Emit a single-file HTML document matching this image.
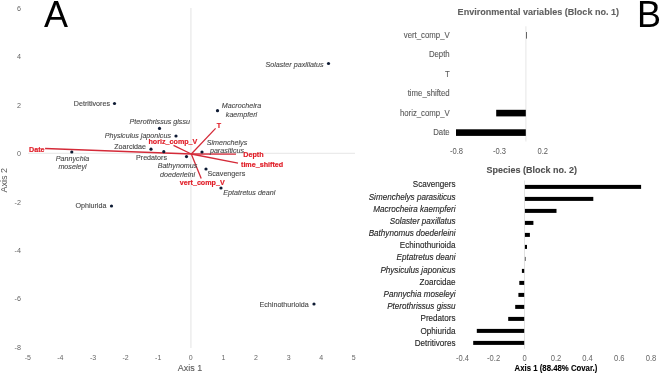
<!DOCTYPE html><html><head><meta charset="utf-8"><style>html,body{margin:0;padding:0;background:#fff;width:660px;height:374px;overflow:hidden}svg{display:block;font-family:"Liberation Sans",sans-serif;filter:blur(0.35px)}</style></head><body>
<svg width="660" height="374" viewBox="0 0 660 374">
<rect width="660" height="374" fill="#fff"/>
<text transform="translate(44.00,26.70) scale(1,1.03)" font-size="36" fill="#000" text-anchor="start">A</text>
<text transform="translate(637.00,26.70) scale(1,1.03)" font-size="36" fill="#000" text-anchor="start">B</text>
<line x1="190.9" y1="8" x2="190.9" y2="348" stroke="#ebebeb" stroke-width="1.4"/>
<line x1="28" y1="153.4" x2="355" y2="153.4" stroke="#ebebeb" stroke-width="1.4"/>
<text transform="translate(20.90,10.90) scale(1,1.05)" font-size="7.2" fill="#666666" text-anchor="end">6</text>
<text transform="translate(20.90,59.30) scale(1,1.05)" font-size="7.2" fill="#666666" text-anchor="end">4</text>
<text transform="translate(20.90,107.70) scale(1,1.05)" font-size="7.2" fill="#666666" text-anchor="end">2</text>
<text transform="translate(20.90,156.10) scale(1,1.05)" font-size="7.2" fill="#666666" text-anchor="end">0</text>
<text transform="translate(20.90,204.50) scale(1,1.05)" font-size="7.2" fill="#666666" text-anchor="end">-2</text>
<text transform="translate(20.90,252.90) scale(1,1.05)" font-size="7.2" fill="#666666" text-anchor="end">-4</text>
<text transform="translate(20.90,301.30) scale(1,1.05)" font-size="7.2" fill="#666666" text-anchor="end">-6</text>
<text transform="translate(20.90,349.70) scale(1,1.05)" font-size="7.2" fill="#666666" text-anchor="end">-8</text>
<text transform="translate(27.80,359.80) scale(1,1.0)" font-size="7" fill="#666666" text-anchor="middle">-5</text>
<text transform="translate(60.40,359.80) scale(1,1.0)" font-size="7" fill="#666666" text-anchor="middle">-4</text>
<text transform="translate(93.00,359.80) scale(1,1.0)" font-size="7" fill="#666666" text-anchor="middle">-3</text>
<text transform="translate(125.60,359.80) scale(1,1.0)" font-size="7" fill="#666666" text-anchor="middle">-2</text>
<text transform="translate(158.20,359.80) scale(1,1.0)" font-size="7" fill="#666666" text-anchor="middle">-1</text>
<text transform="translate(190.80,359.80) scale(1,1.0)" font-size="7" fill="#666666" text-anchor="middle">0</text>
<text transform="translate(223.40,359.80) scale(1,1.0)" font-size="7" fill="#666666" text-anchor="middle">1</text>
<text transform="translate(256.00,359.80) scale(1,1.0)" font-size="7" fill="#666666" text-anchor="middle">2</text>
<text transform="translate(288.60,359.80) scale(1,1.0)" font-size="7" fill="#666666" text-anchor="middle">3</text>
<text transform="translate(321.20,359.80) scale(1,1.0)" font-size="7" fill="#666666" text-anchor="middle">4</text>
<text transform="translate(353.80,359.80) scale(1,1.0)" font-size="7" fill="#666666" text-anchor="middle">5</text>
<text transform="translate(190.00,371.20) scale(1,1.1)" font-size="9" fill="#595959" text-anchor="middle" stroke="#595959" stroke-width="0.1">Axis 1</text>
<text transform="translate(7.0,180.3) rotate(-90) scale(1,1.1)" font-size="9" fill="#595959" text-anchor="middle">Axis 2</text>
<line x1="191.3" y1="154.0" x2="45.1" y2="148.5" stroke="#d42a38" stroke-width="1.3"/>
<line x1="191.3" y1="154.0" x2="173.5" y2="145.3" stroke="#d42a38" stroke-width="1.3"/>
<line x1="191.3" y1="154.0" x2="215.6" y2="128.4" stroke="#d42a38" stroke-width="1.3"/>
<line x1="191.3" y1="154.0" x2="236.0" y2="154.2" stroke="#d42a38" stroke-width="1.3"/>
<line x1="191.3" y1="154.0" x2="238.0" y2="163.2" stroke="#d42a38" stroke-width="1.3"/>
<line x1="191.3" y1="154.0" x2="201.2" y2="178.6" stroke="#d42a38" stroke-width="1.3"/>
<circle cx="114.5" cy="103.5" r="1.6" fill="#0d1a33"/>
<circle cx="159.5" cy="128.4" r="1.6" fill="#0d1a33"/>
<circle cx="176" cy="136" r="1.6" fill="#0d1a33"/>
<circle cx="151" cy="149.2" r="1.6" fill="#0d1a33"/>
<circle cx="163.8" cy="151.7" r="1.6" fill="#0d1a33"/>
<circle cx="186.5" cy="156.6" r="1.6" fill="#0d1a33"/>
<circle cx="71.8" cy="152" r="1.6" fill="#0d1a33"/>
<circle cx="111.5" cy="206" r="1.6" fill="#0d1a33"/>
<circle cx="217.5" cy="110.7" r="1.6" fill="#0d1a33"/>
<circle cx="202" cy="152" r="1.6" fill="#0d1a33"/>
<circle cx="206" cy="169" r="1.6" fill="#0d1a33"/>
<circle cx="221" cy="188" r="1.6" fill="#0d1a33"/>
<circle cx="328.5" cy="63.5" r="1.6" fill="#0d1a33"/>
<circle cx="314" cy="304" r="1.6" fill="#0d1a33"/>
<text transform="translate(110.00,105.80) scale(1,1.1)" font-size="7.17" fill="#474747" text-anchor="end" stroke="#474747" stroke-width="0.1">Detritivores</text>
<text transform="translate(190.00,123.80) scale(1,1.1)" font-size="7.17" fill="#474747" text-anchor="end" stroke="#474747" stroke-width="0.1" font-style="italic">Pterothrissus gissu</text>
<text transform="translate(171.00,137.60) scale(1,1.1)" font-size="7.17" fill="#474747" text-anchor="end" stroke="#474747" stroke-width="0.1" font-style="italic">Physiculus japonicus</text>
<text transform="translate(146.00,149.40) scale(1,1.1)" font-size="7.17" fill="#474747" text-anchor="end" stroke="#474747" stroke-width="0.1">Zoarcidae</text>
<text transform="translate(167.00,160.10) scale(1,1.1)" font-size="7.17" fill="#474747" text-anchor="end" stroke="#474747" stroke-width="0.1">Predators</text>
<text transform="translate(177.50,168.20) scale(1,1.1)" font-size="7.17" fill="#474747" text-anchor="middle" stroke="#474747" stroke-width="0.1" font-style="italic">Bathynomus</text>
<text transform="translate(177.50,176.80) scale(1,1.1)" font-size="7.17" fill="#474747" text-anchor="middle" stroke="#474747" stroke-width="0.1" font-style="italic">doederleini</text>
<text transform="translate(72.50,160.80) scale(1,1.1)" font-size="7.17" fill="#474747" text-anchor="middle" stroke="#474747" stroke-width="0.1" font-style="italic">Pannychia</text>
<text transform="translate(72.50,168.70) scale(1,1.1)" font-size="7.17" fill="#474747" text-anchor="middle" stroke="#474747" stroke-width="0.1" font-style="italic">moseleyi</text>
<text transform="translate(106.40,208.20) scale(1,1.1)" font-size="7.17" fill="#474747" text-anchor="end" stroke="#474747" stroke-width="0.1">Ophiurida</text>
<text transform="translate(241.50,108.10) scale(1,1.1)" font-size="7.17" fill="#474747" text-anchor="middle" stroke="#474747" stroke-width="0.1" font-style="italic">Macrocheira</text>
<text transform="translate(241.50,117.00) scale(1,1.1)" font-size="7.17" fill="#474747" text-anchor="middle" stroke="#474747" stroke-width="0.1" font-style="italic">kaempferi</text>
<text transform="translate(227.00,144.50) scale(1,1.1)" font-size="7.17" fill="#474747" text-anchor="middle" stroke="#474747" stroke-width="0.1" font-style="italic">Simenchelys</text>
<text transform="translate(227.00,152.50) scale(1,1.1)" font-size="7.17" fill="#474747" text-anchor="middle" stroke="#474747" stroke-width="0.1" font-style="italic">parasiticus</text>
<text transform="translate(207.50,176.40) scale(1,1.1)" font-size="7.17" fill="#474747" text-anchor="start" stroke="#474747" stroke-width="0.1">Scavengers</text>
<text transform="translate(223.30,195.10) scale(1,1.1)" font-size="7.17" fill="#474747" text-anchor="start" stroke="#474747" stroke-width="0.1" font-style="italic">Eptatretus deani</text>
<text transform="translate(323.50,66.50) scale(1,1.1)" font-size="7.17" fill="#474747" text-anchor="end" stroke="#474747" stroke-width="0.1" font-style="italic">Solaster paxillatus</text>
<text transform="translate(308.80,306.80) scale(1,1.1)" font-size="7.17" fill="#474747" text-anchor="end" stroke="#474747" stroke-width="0.1">Echinothurioida</text>
<text transform="translate(29.00,151.50) scale(1,1.1)" font-size="7.17" fill="#e01c26" text-anchor="start" stroke="#e01c26" stroke-width="0.18" font-weight="bold">Date</text>
<text transform="translate(148.50,144.10) scale(1,1.1)" font-size="7.17" fill="#e01c26" text-anchor="start" stroke="#e01c26" stroke-width="0.18" font-weight="bold">horiz_comp_V</text>
<text transform="translate(218.90,127.90) scale(1,1.1)" font-size="7.17" fill="#e01c26" text-anchor="middle" stroke="#e01c26" stroke-width="0.18" font-weight="bold">T</text>
<text transform="translate(243.30,157.00) scale(1,1.1)" font-size="7.17" fill="#e01c26" text-anchor="start" stroke="#e01c26" stroke-width="0.18" font-weight="bold">Depth</text>
<text transform="translate(241.00,167.20) scale(1,1.1)" font-size="7.17" fill="#e01c26" text-anchor="start" stroke="#e01c26" stroke-width="0.18" font-weight="bold">time_shifted</text>
<text transform="translate(179.80,185.00) scale(1,1.1)" font-size="7.17" fill="#e01c26" text-anchor="start" stroke="#e01c26" stroke-width="0.18" font-weight="bold">vert_comp_V</text>
<text transform="translate(457.60,15.10) scale(1,1.1)" font-size="9.07" fill="#606060" text-anchor="start" stroke="#606060" stroke-width="0.1" font-weight="bold">Environmental variables (Block no. 1)</text>
<line x1="525.9" y1="26.3" x2="525.9" y2="141.5" stroke="#e6e6e6" stroke-width="1"/>
<text transform="translate(449.70,37.80) scale(1,1.1)" font-size="7.8" fill="#595959" text-anchor="end" stroke="#595959" stroke-width="0.1">vert_comp_V</text>
<rect x="526.0" y="32.0" width="0.9" height="6.6" fill="#555"/>
<text transform="translate(449.70,57.26) scale(1,1.1)" font-size="7.8" fill="#595959" text-anchor="end" stroke="#595959" stroke-width="0.1">Depth</text>
<text transform="translate(449.70,76.72) scale(1,1.1)" font-size="7.8" fill="#595959" text-anchor="end" stroke="#595959" stroke-width="0.1">T</text>
<text transform="translate(449.70,96.18) scale(1,1.1)" font-size="7.8" fill="#595959" text-anchor="end" stroke="#595959" stroke-width="0.1">time_shifted</text>
<text transform="translate(449.70,115.64) scale(1,1.1)" font-size="7.8" fill="#595959" text-anchor="end" stroke="#595959" stroke-width="0.1">horiz_comp_V</text>
<rect x="496.2" y="109.8" width="29.6" height="6.6" fill="#000"/>
<text transform="translate(449.70,135.10) scale(1,1.1)" font-size="7.8" fill="#595959" text-anchor="end" stroke="#595959" stroke-width="0.1">Date</text>
<rect x="456" y="129.3" width="69.8" height="6.6" fill="#000"/>
<text transform="translate(456.50,153.50) scale(1,1.1)" font-size="7.6" fill="#595959" text-anchor="middle">-0.8</text>
<text transform="translate(499.50,153.50) scale(1,1.1)" font-size="7.6" fill="#595959" text-anchor="middle">-0.3</text>
<text transform="translate(542.80,153.50) scale(1,1.1)" font-size="7.6" fill="#595959" text-anchor="middle">0.2</text>
<text transform="translate(486.50,172.90) scale(1,1.1)" font-size="9" fill="#505050" text-anchor="start" stroke="#505050" stroke-width="0.1" font-weight="bold">Species (Block no. 2)</text>
<line x1="524.5" y1="180.5" x2="524.5" y2="348.8" stroke="#dedede" stroke-width="0.9"/>
<text transform="translate(455.60,187.40) scale(1,1.1)" font-size="8.12" fill="#262626" text-anchor="end" stroke="#262626" stroke-width="0.12">Scavengers</text>
<rect x="524.9" y="184.9" width="116.2" height="4.0" fill="#000"/>
<text transform="translate(455.60,199.58) scale(1,1.1)" font-size="8.12" fill="#262626" text-anchor="end" stroke="#262626" stroke-width="0.12" font-style="italic">Simenchelys parasiticus</text>
<rect x="524.9" y="196.9" width="68.4" height="4.0" fill="#000"/>
<text transform="translate(455.60,211.76) scale(1,1.1)" font-size="8.12" fill="#262626" text-anchor="end" stroke="#262626" stroke-width="0.12" font-style="italic">Macrocheira kaempferi</text>
<rect x="524.9" y="208.9" width="31.6" height="4.0" fill="#000"/>
<text transform="translate(455.60,223.94) scale(1,1.1)" font-size="8.12" fill="#262626" text-anchor="end" stroke="#262626" stroke-width="0.12" font-style="italic">Solaster paxillatus</text>
<rect x="524.9" y="220.9" width="8.5" height="4.0" fill="#000"/>
<text transform="translate(455.60,236.12) scale(1,1.1)" font-size="8.12" fill="#262626" text-anchor="end" stroke="#262626" stroke-width="0.12" font-style="italic">Bathynomus doederleini</text>
<rect x="524.9" y="232.9" width="5.0" height="4.0" fill="#000"/>
<text transform="translate(455.60,248.30) scale(1,1.1)" font-size="8.12" fill="#262626" text-anchor="end" stroke="#262626" stroke-width="0.12">Echinothurioida</text>
<rect x="524.9" y="244.9" width="2.1" height="4.0" fill="#000"/>
<text transform="translate(455.60,260.48) scale(1,1.1)" font-size="8.12" fill="#262626" text-anchor="end" stroke="#262626" stroke-width="0.12" font-style="italic">Eptatretus deani</text>
<rect x="524.9" y="256.9" width="0.6" height="4.0" fill="#000"/>
<text transform="translate(455.60,272.66) scale(1,1.1)" font-size="8.12" fill="#262626" text-anchor="end" stroke="#262626" stroke-width="0.12" font-style="italic">Physiculus japonicus</text>
<rect x="521.9" y="268.9" width="2.3" height="4.0" fill="#000"/>
<text transform="translate(455.60,284.84) scale(1,1.1)" font-size="8.12" fill="#262626" text-anchor="end" stroke="#262626" stroke-width="0.12">Zoarcidae</text>
<rect x="519.3" y="280.9" width="4.9" height="4.0" fill="#000"/>
<text transform="translate(455.60,297.02) scale(1,1.1)" font-size="8.12" fill="#262626" text-anchor="end" stroke="#262626" stroke-width="0.12" font-style="italic">Pannychia moseleyi</text>
<rect x="518.4" y="292.9" width="5.8" height="4.0" fill="#000"/>
<text transform="translate(455.60,309.20) scale(1,1.1)" font-size="8.12" fill="#262626" text-anchor="end" stroke="#262626" stroke-width="0.12" font-style="italic">Pterothrissus gissu</text>
<rect x="515.2" y="304.9" width="9.0" height="4.0" fill="#000"/>
<text transform="translate(455.60,321.38) scale(1,1.1)" font-size="8.12" fill="#262626" text-anchor="end" stroke="#262626" stroke-width="0.12">Predators</text>
<rect x="508.2" y="316.9" width="16.0" height="4.0" fill="#000"/>
<text transform="translate(455.60,333.56) scale(1,1.1)" font-size="8.12" fill="#262626" text-anchor="end" stroke="#262626" stroke-width="0.12">Ophiurida</text>
<rect x="476.8" y="328.9" width="47.4" height="4.0" fill="#000"/>
<text transform="translate(455.60,345.74) scale(1,1.1)" font-size="8.12" fill="#262626" text-anchor="end" stroke="#262626" stroke-width="0.12">Detritivores</text>
<rect x="473.2" y="340.9" width="51.0" height="4.0" fill="#000"/>
<text transform="translate(462.50,360.60) scale(1,1.1)" font-size="7.6" fill="#666666" text-anchor="middle">-0.4</text>
<text transform="translate(493.60,360.60) scale(1,1.1)" font-size="7.6" fill="#666666" text-anchor="middle">-0.2</text>
<text transform="translate(524.60,360.60) scale(1,1.1)" font-size="7.6" fill="#666666" text-anchor="middle">0</text>
<text transform="translate(556.00,360.60) scale(1,1.1)" font-size="7.6" fill="#666666" text-anchor="middle">0.2</text>
<text transform="translate(587.40,360.60) scale(1,1.1)" font-size="7.6" fill="#666666" text-anchor="middle">0.4</text>
<text transform="translate(619.30,360.60) scale(1,1.1)" font-size="7.6" fill="#666666" text-anchor="middle">0.6</text>
<text transform="translate(651.00,360.60) scale(1,1.1)" font-size="7.6" fill="#666666" text-anchor="middle">0.8</text>
<text transform="translate(514.60,371.00) scale(1,1.1)" font-size="7.8" fill="#000" text-anchor="start" stroke="#000" stroke-width="0.1" font-weight="bold">Axis 1 (88.48% Covar.)</text>
</svg></body></html>
